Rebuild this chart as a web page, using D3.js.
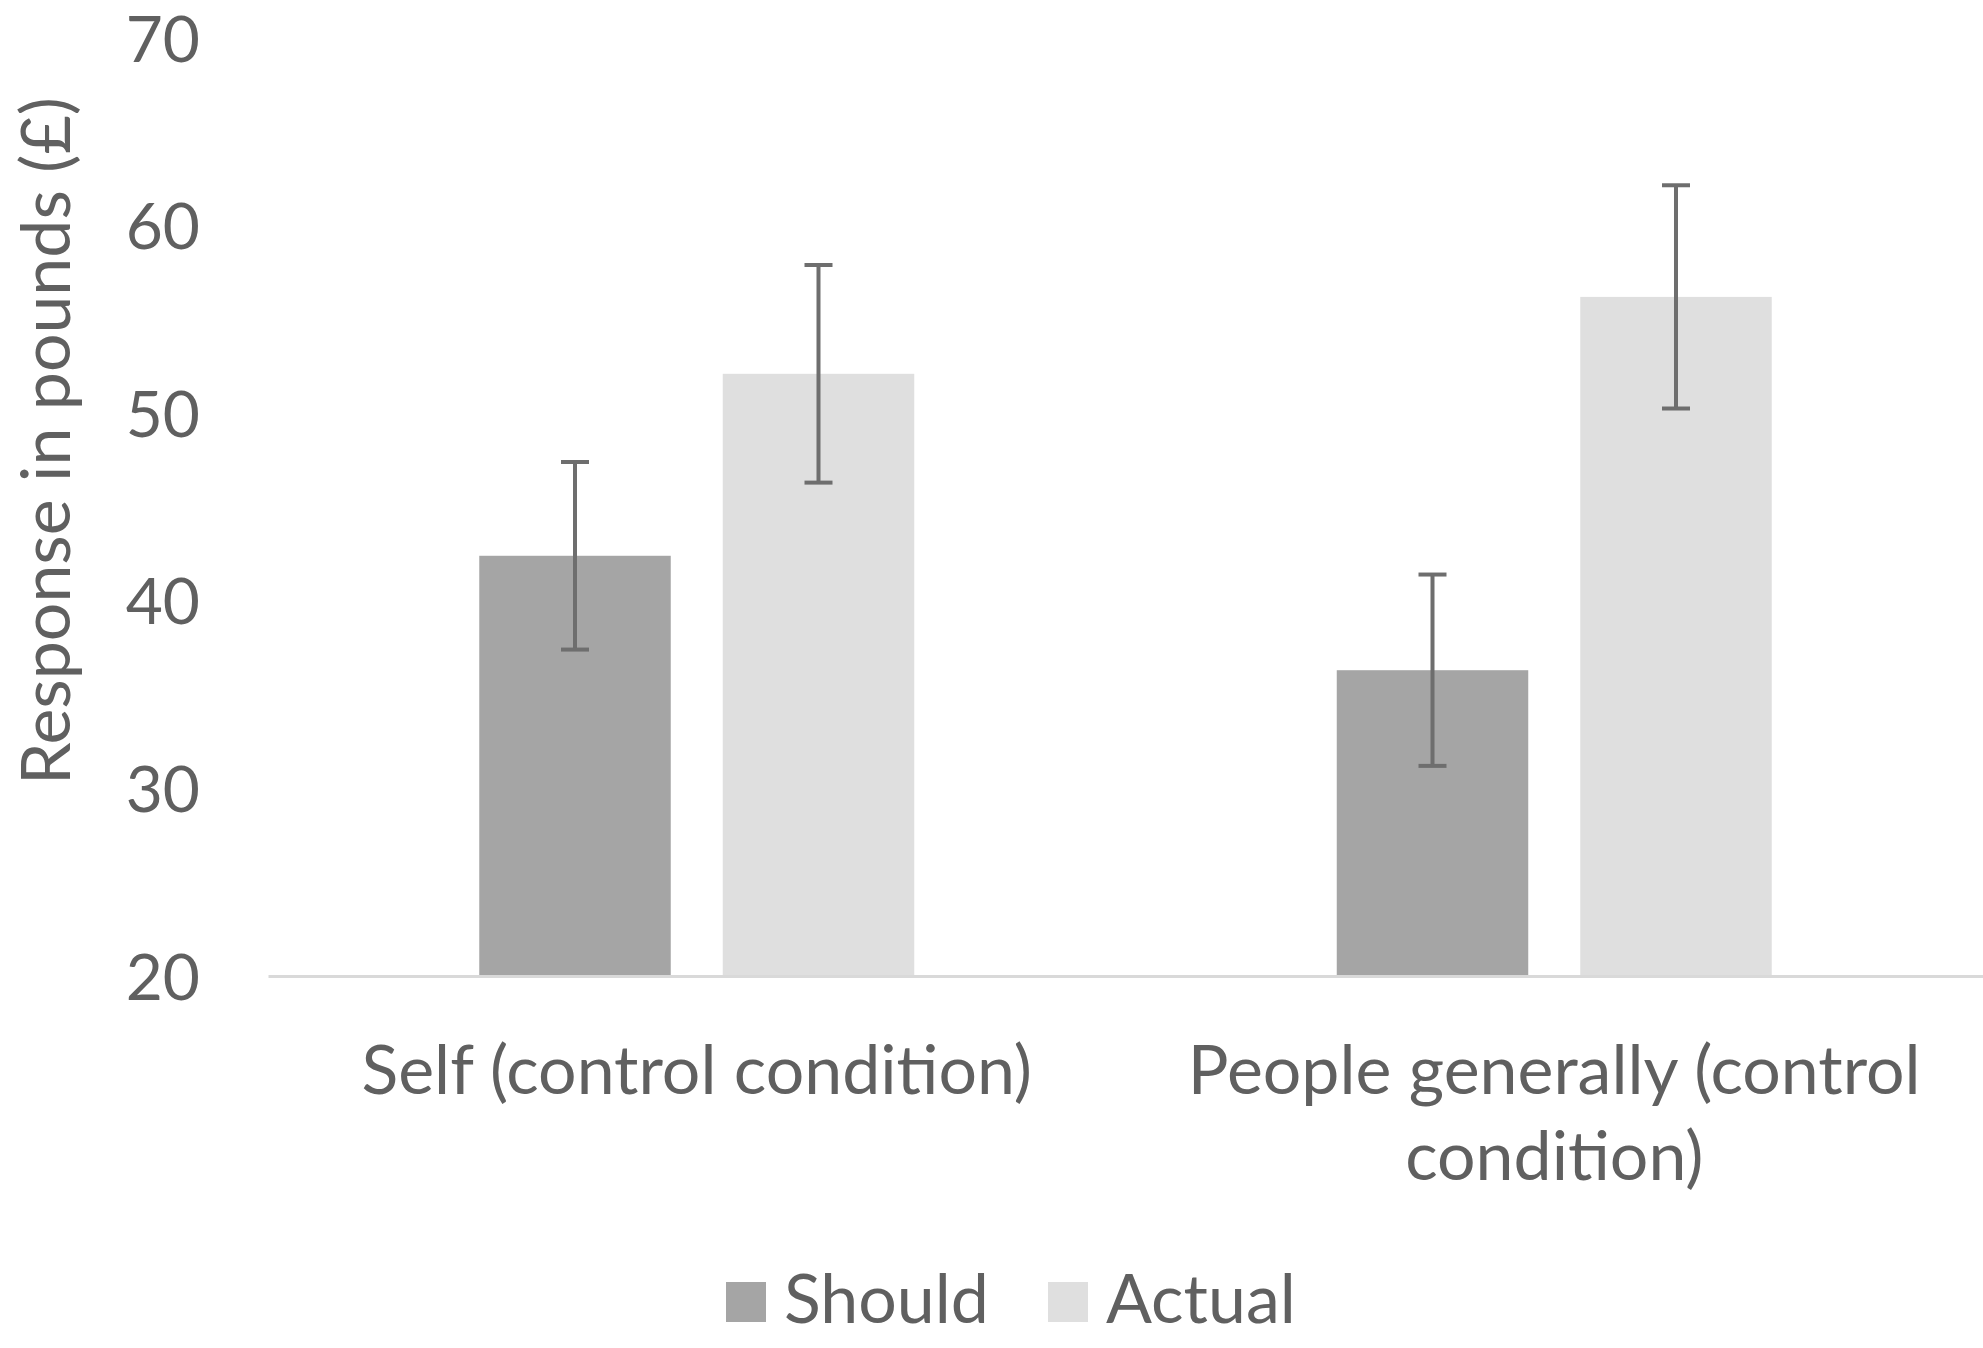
<!DOCTYPE html>
<html>
<head>
<meta charset="utf-8">
<script src="https://cdn.jsdelivr.net/npm/d3@7"></script>
<style>
  html, body { margin: 0; padding: 0; background: #fff; }
  svg { display: block; }
  text { font-family: Lato, "Open Sans", sans-serif; fill: #606060; }
</style>
</head>
<body>
<svg id="chart" width="1983" height="1348"></svg>
<script>
// ---- data ----
const categories = ["Self (control condition)", "People generally (control condition)"];
const categoryLines = [["Self (control condition)"], ["People generally (control", "condition)"]];
const seriesNames = ["Should", "Actual"];
const shouldValues = [42.4, 36.3];
const actualValues = [52.1, 56.2];
const shouldErrors = [5.0, 5.1];
const actualErrors = [5.8, 5.95];
const yTicks = [20, 30, 40, 50, 60, 70];
const yTitle = "Response in pounds (£)";
const seriesColors = ["#a5a5a5", "#dfdfdf"];

const rows = categories.map((c, i) => ({
  category: c,
  values: [
    { series: seriesNames[0], value: shouldValues[i], err: shouldErrors[i] },
    { series: seriesNames[1], value: actualValues[i], err: actualErrors[i] }
  ]
}));

const svg = d3.select("#chart");
const plot = { left: 268, right: 1983, top: 38, bottom: 976 };
const labelSize = 68;
const tickSize = 64;

const x0 = d3.scaleBand().domain(categories).range([plot.left, plot.right]).padding(0);
const x1 = d3.scaleBand().domain(seriesNames).range([0, x0.bandwidth()])
  .paddingInner(0.2136).paddingOuter(0.8676);
const y = d3.scaleLinear().domain([20, 70]).range([plot.bottom, plot.top]);
const color = d3.scaleOrdinal().domain(seriesNames).range(seriesColors);

// y axis labels
const yAxis = d3.axisLeft(y).tickValues(yTicks).tickSize(0).tickPadding(0);
const gy = svg.append("g").attr("transform", `translate(200,0)`).call(yAxis);
gy.select(".domain").remove();
gy.selectAll("text")
  .style("font-family", "Lato, sans-serif")
  .style("font-size", tickSize + "px")
  .attr("fill", "#606060")
  .attr("dy", "0.36em");

// bars
const groups = svg.append("g").selectAll("g").data(rows).join("g")
  .attr("transform", d => `translate(${x0(d.category)},0)`);
groups.selectAll("rect").data(d => d.values).join("rect")
  .attr("x", d => x1(d.series))
  .attr("width", x1.bandwidth())
  .attr("y", d => y(d.value))
  .attr("height", d => y(20) - y(d.value))
  .attr("fill", d => color(d.series));

// x axis baseline
const xAxis = d3.axisBottom(x0).tickSize(0).tickFormat("");
const gx = svg.append("g").attr("transform", `translate(0,${plot.bottom})`).call(xAxis);
gx.select(".domain").attr("stroke", "#d9d9d9").attr("stroke-width", 3);

// error bars
const capHalf = 14;
const eb = groups.selectAll("g.err").data(d => d.values).join("g").attr("class", "err")
  .attr("stroke", "#6e6e6e").attr("stroke-width", 4).attr("fill", "none");
eb.append("line")
  .attr("x1", d => x1(d.series) + x1.bandwidth() / 2)
  .attr("x2", d => x1(d.series) + x1.bandwidth() / 2)
  .attr("y1", d => y(d.value + d.err))
  .attr("y2", d => y(d.value - d.err));
eb.append("line")
  .attr("x1", d => x1(d.series) + x1.bandwidth() / 2 - capHalf)
  .attr("x2", d => x1(d.series) + x1.bandwidth() / 2 + capHalf)
  .attr("y1", d => y(d.value + d.err))
  .attr("y2", d => y(d.value + d.err));
eb.append("line")
  .attr("x1", d => x1(d.series) + x1.bandwidth() / 2 - capHalf)
  .attr("x2", d => x1(d.series) + x1.bandwidth() / 2 + capHalf)
  .attr("y1", d => y(d.value - d.err))
  .attr("y2", d => y(d.value - d.err));

// category labels
const catG = svg.append("g");
categories.forEach((c, i) => {
  const cx = x0(c) + x0.bandwidth() / 2;
  const t = catG.append("text")
    .attr("x", cx)
    .attr("y", 1094)
    .attr("text-anchor", "middle")
    .style("font-size", labelSize + "px");
  categoryLines[i].forEach((ln, j) => {
    t.append("tspan").attr("x", cx).attr("dy", j === 0 ? 0 : 86).text(ln);
  });
});

// y title
svg.append("text")
  .attr("transform", `translate(70,441) rotate(-90)`)
  .attr("text-anchor", "middle")
  .style("font-size", labelSize + "px")
  .text(yTitle);

// legend
const legend = svg.append("g");
const legendX = [726, 1048];
seriesNames.forEach((s, i) => {
  legend.append("rect").attr("x", legendX[i]).attr("y", 1282).attr("width", 40).attr("height", 40)
    .attr("fill", color(s));
  legend.append("text").attr("x", legendX[i] + 58).attr("y", 1323)
    .style("font-size", labelSize + "px").text(s);
});
</script>
</body>
</html>
